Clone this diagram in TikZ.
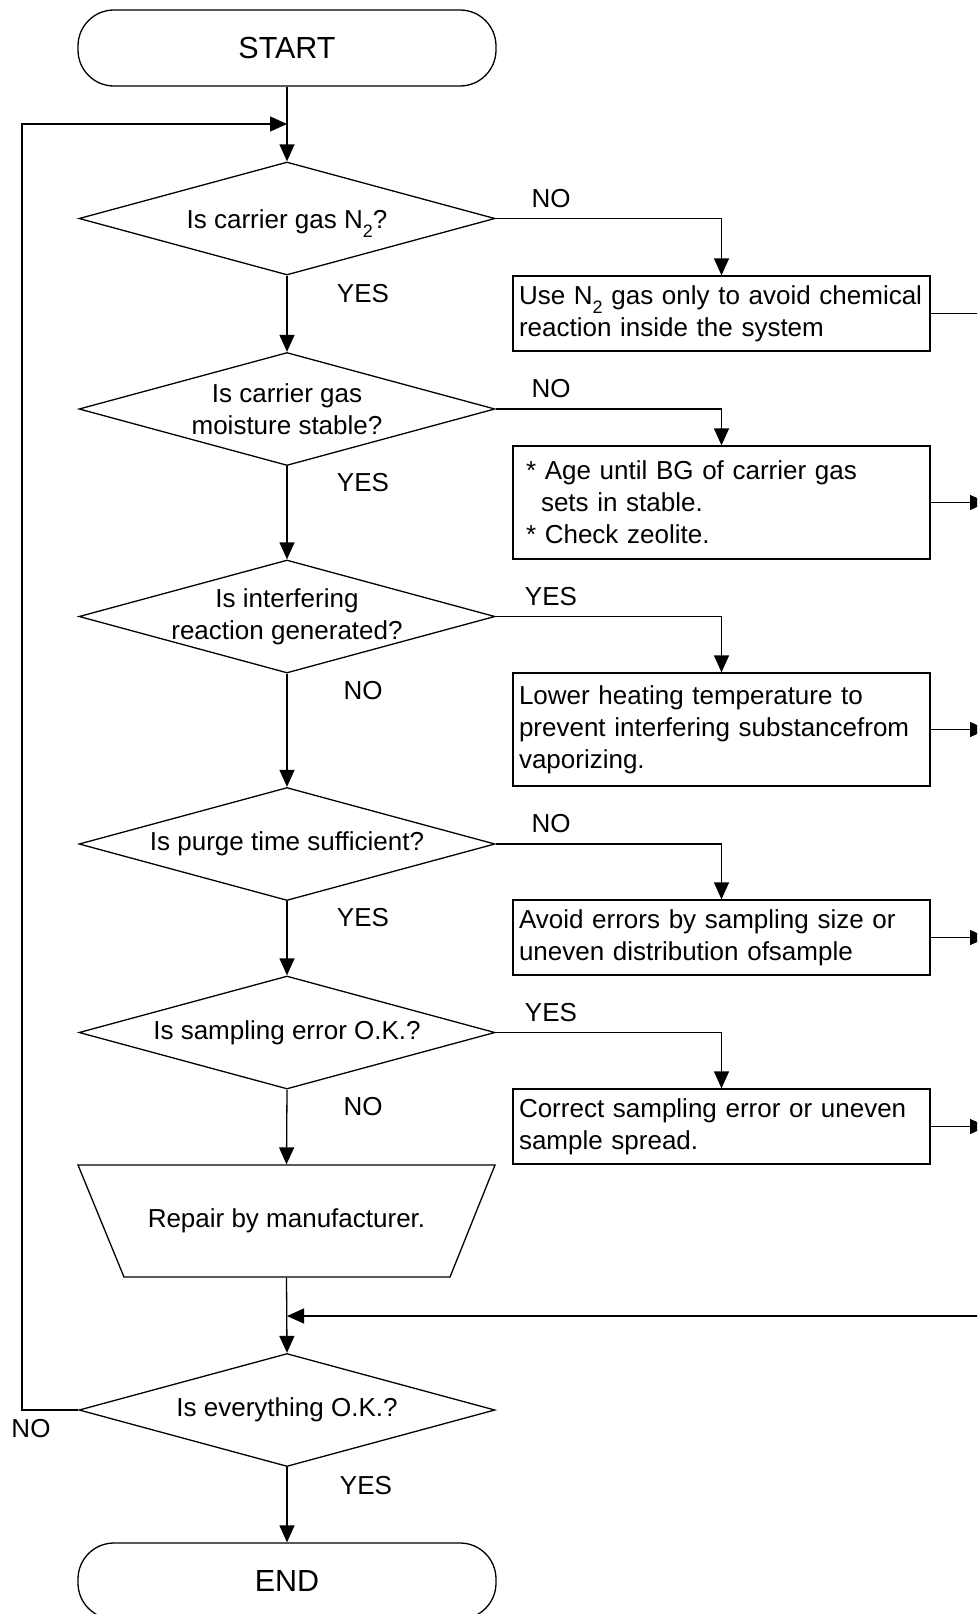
\documentclass[tikz,border=0pt]{standalone}
\usepackage{fontspec}
\setmainfont{Liberation Sans}
\usetikzlibrary{shapes.geometric,arrows.meta}
\newcommand{\mysubtwo}{\raisebox{-9pt}{\fontsize{18}{18}\selectfont 2}}
\begin{document}
\begin{tikzpicture}[x=1pt,y=-1pt, line width=1.3pt,
  >={Triangle[length=17pt,width=15pt]},
  base/.style={font=\fontsize{26}{32}\selectfont},
  term/.style={draw, rounded corners=36pt, minimum width=418pt, minimum height=76pt,
               font=\fontsize{30.5}{36}\selectfont, inner sep=0pt},
  dia/.style={draw, diamond, minimum width=416pt, minimum height=113pt, inner sep=0pt},
  dtext/.style={base, align=center, inner sep=0pt},
  actbox/.style={draw, base, align=left, text width=405pt, inner xsep=6pt, inner ysep=0pt},
  lab/.style={base, inner sep=0pt},
  trap/.style={draw, line join=miter},
  ghost/.style={base, minimum width=417pt, minimum height=112pt, inner sep=0pt}
]
\useasboundingbox (0,0) rectangle (977,1614);
\clip (0,0) rectangle (977,1614);

% terminals
\node[term] (start) at (287,48) {START};
\node[term] (end) at (287,1581) {END};

% decisions
\node[dia] (d1) at (287,218.5) {};
\node[dtext] (d1t) at (287,223.5) {Is carrier gas N\mysubtwo?};
\node[dia] (d2) at (287,409) {};
\node[dtext] (d2t) at (d2) {Is carrier gas\\moisture stable?};
\node[dia] (d3) at (287,616.5) {};
\node[dtext] (d3t) at (d3) {Is interfering\\reaction generated?};
\node[dia] (d4) at (287,844) {};
\node[dtext] (d4t) at (d4) {Is purge time sufficient?};
\node[dia] (d5) at (287,1032.5) {};
\node[dtext] (d5t) at (d5) {Is sampling error O.K.?};
\node[dia] (d6) at (287,1410) {};
\node[dtext] (d6t) at (d6) {Is everything O.K.?};

% manual operation (trapezoid)
\draw[trap] (78,1165) -- (495,1165) -- (450,1277) -- (124,1277) -- cycle;
\node[ghost] (rep) at (286.5,1221) {Repair by manufacturer.};

% action boxes
\node[actbox, minimum height=75pt] (b1) at (721.5,313.5)
  {Use N\mysubtwo{} gas only to avoid chemical\\reaction inside the system};
\node[actbox, minimum height=113pt] (b2) at (721.5,502.5)
  {\hspace*{7pt}* Age until BG of carrier gas\\\hspace*{22pt}sets in stable.\\\hspace*{7pt}* Check zeolite.};
\node[actbox, minimum height=113pt] (b3) at (721.5,729.5)
  {Lower heating temperature to\\prevent interfering substancefrom\\vaporizing.};
\node[actbox, minimum height=75pt] (b4) at (721.5,937.5)
  {Avoid errors by sampling size or\\uneven distribution ofsample};
\node[actbox, minimum height=75pt] (b5) at (721.5,1126.5)
  {Correct sampling error or uneven\\sample spread.};

% labels
\node[lab] (n1) at (551,198.5) {NO};
\node[lab] (y1) at (363,293.5) {YES};
\node[lab] (n2) at (551,389) {NO};
\node[lab] (y2) at (363,483) {YES};
\node[lab] (y3) at (551,596.5) {YES};
\node[lab] (n3) at (363,691) {NO};
\node[lab] (n4) at (551,824) {NO};
\node[lab] (y4) at (363,918) {YES};
\node[lab] (y5) at (551,1012.5) {YES};
\node[lab] (n5) at (363,1107) {NO};
\node[lab] (n6) at (31,1429) {NO};
\node[lab] (y6) at (366,1485.5) {YES};

% coordinates
\coordinate (lp) at (22,124);
\coordinate (mj) at (287,124);
\coordinate (rin) at (990,1316);
\coordinate (mj2) at (287,1316);
\coordinate (e1) at (990,313.5);
\coordinate (e2) at (987,502.5);
\coordinate (e3) at (987,729.5);
\coordinate (e4) at (987,937.5);
\coordinate (e5) at (987,1126.5);

% main flow
\draw[->] (start) -- (d1.north);
\draw[->] (d1.south) -- (d2.north);
\draw[->] (d2.south) -- (d3.north);
\draw[->] (d3.south) -- (d4.north);
\draw[->] (d4.south) -- (d5.north);
\draw[->] (d5.south) -- (rep.north);
\draw[->] (rep.south) -- (d6.north);
\draw[->] (d6.south) -- (end.north);

% loop back
\draw[->] (d6.west) -| (lp) -- (mj);

% branches
\draw[->] (d1.east) -| (b1.north);
\draw[->] (d2.east) -| (b2.north);
\draw[->] (d3.east) -| (b3.north);
\draw[->] (d4.east) -| (b4.north);
\draw[->] (d5.east) -| (b5.north);

% outputs to the right
\draw (b1.east) -- (e1);
\draw[->] (b2.east) -- (e2);
\draw[->] (b3.east) -- (e3);
\draw[->] (b4.east) -- (e4);
\draw[->] (b5.east) -- (e5);

% return
\draw[->] (rin) -- (mj2);
\end{tikzpicture}
\end{document}
